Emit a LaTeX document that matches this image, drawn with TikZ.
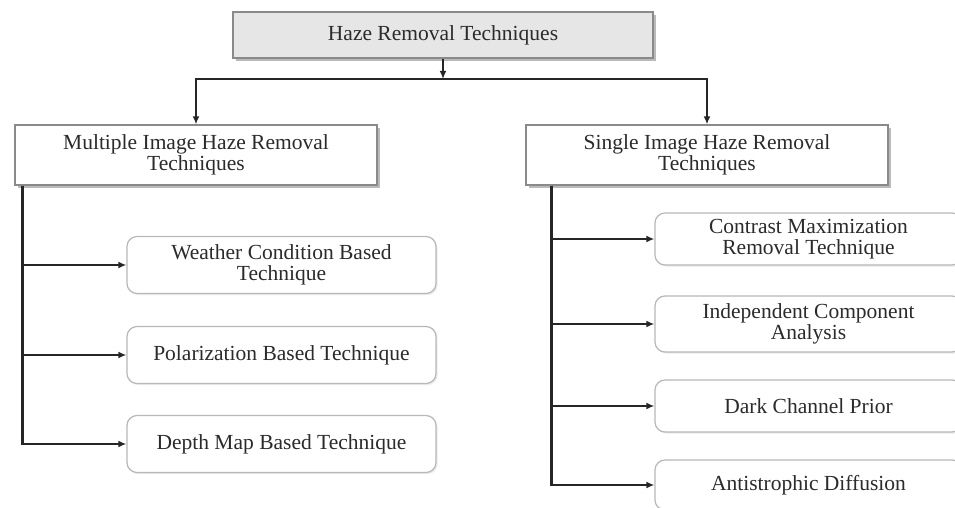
\documentclass[tikz,border=0pt]{standalone}
\usepackage{fontspec}
\setmainfont{Liberation Serif}
\usetikzlibrary{arrows.meta,shadows}
\definecolor{txt}{HTML}{2B2B2B}
\definecolor{mainedge}{HTML}{8A8A8A}
\definecolor{subedge}{HTML}{B8B8B8}
\definecolor{topfill}{HTML}{E6E6E6}
\begin{document}
\begin{tikzpicture}[x=0.5pt,y=-0.5pt,
  every node/.style={font=\fontsize{10.75}{10.2}\selectfont, text=txt, align=center, inner sep=0pt},
  mainbox/.style={draw=mainedge, line width=0.6pt, fill=white,
    drop shadow={shadow xshift=1.6pt, shadow yshift=-1.6pt, fill=black!45, opacity=0.6}},
  subbox/.style={draw=subedge, line width=0.6pt, fill=white, rounded corners=5pt,
    drop shadow={shadow xshift=0.8pt, shadow yshift=-0.8pt, fill=black!15, opacity=0.5}},
  link/.style={draw=black!85, line width=1.1pt, -{Latex[length=4pt,width=3.4pt]}}]
\useasboundingbox (0,0) rectangle (955,508);
\clip (0,0) rectangle (955,508);
\fill[white] (0,0) rectangle (955,508);

% root
\node[mainbox, fill=topfill, minimum width=210pt, minimum height=23pt] (root) at (443,35) {Haze Removal Techniques};

% two families
\node[mainbox, minimum width=181pt, minimum height=30pt] (multi) at (196,155) {Multiple Image Haze Removal\\Techniques};
\node[mainbox, minimum width=181pt, minimum height=30pt] (single) at (707,155) {Single Image Haze Removal\\Techniques};

% multiple image methods
\node[subbox, minimum width=154.5pt, minimum height=28.5pt] (weather) at (281.5,265) {Weather Condition Based\\Technique};
\node[subbox, minimum width=154.5pt, minimum height=28.5pt] (polar) at (281.5,355) {Polarization Based Technique};
\node[subbox, minimum width=154.5pt, minimum height=28.5pt] (depth) at (281.5,444) {Depth Map Based Technique};

% single image methods
\node[subbox, minimum width=153.5pt, minimum height=26pt] (contrast) at (808.5,239) {Contrast Maximization\\Removal Technique};
\node[subbox, minimum width=153.5pt, minimum height=28pt] (ica) at (808.5,324) {Independent Component\\Analysis};
\node[subbox, minimum width=153.5pt, minimum height=26pt] (dcp) at (808.5,406) {Dark Channel Prior};
\node[subbox, minimum width=153.5pt, minimum height=25pt] (aniso) at (808.5,485) {Antistrophic Diffusion};

% root split
\coordinate (split) at (443,79);
\draw[link] (root.south) -- (split);
\draw[link] (split) -| (multi.north);
\draw[link] (split) -| (single.north);

% left trunk
\coordinate (ltop) at ([xshift=4pt]multi.south west);
\draw[link] (ltop) |- (weather.west);
\draw[link] (ltop) |- (polar.west);
\draw[link] (ltop) |- (depth.west);

% right trunk
\coordinate (rtop) at ([xshift=13pt]single.south west);
\draw[link] (rtop) |- (contrast.west);
\draw[link] (rtop) |- (ica.west);
\draw[link] (rtop) |- (dcp.west);
\draw[link] (rtop) |- (aniso.west);
\end{tikzpicture}
\end{document}
